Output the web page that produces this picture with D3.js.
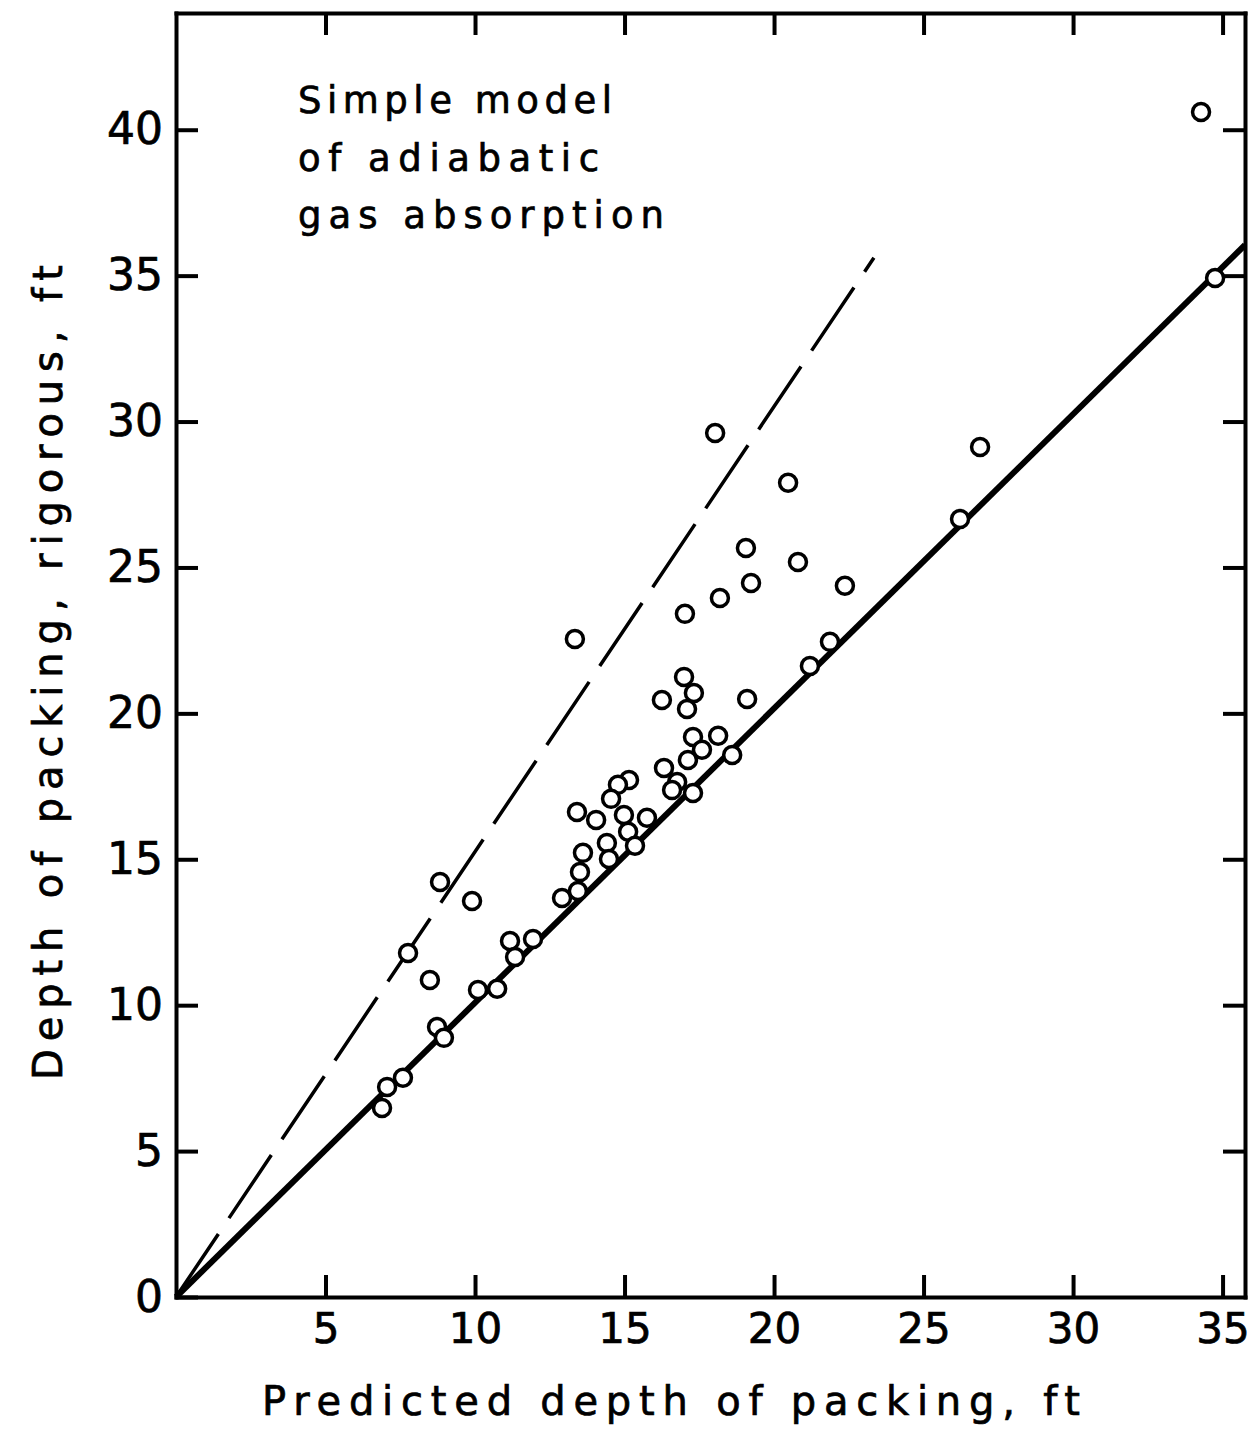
<!DOCTYPE html>
<html>
<head>
<meta charset="utf-8">
<script src="https://cdn.jsdelivr.net/npm/d3@7"></script>
<style>
  body { margin: 0; background: #fff; }
  svg { display: block; font-family: "DejaVu Sans", sans-serif; }
  svg text { stroke: #000; stroke-width: 0.7px; }
</style>
</head>
<body>
<svg width="1253" height="1430"></svg>
<script>
// predicted depth of packing (ft) vs rigorous depth (ft)
const predicted = [34.28, 34.75, 26.89, 26.22, 18.03, 20.47, 19.06, 20.80, 19.23, 18.19,
    22.37, 17.02, 13.34, 21.20, 21.87, 19.10, 16.25, 16.99, 17.32, 17.09,
    18.13, 17.29, 17.59, 18.60, 17.12, 16.32, 16.76, 16.59, 17.29, 15.15,
    14.78, 14.55, 13.41, 14.05, 15.75, 14.98, 15.12, 14.41, 15.35, 13.61,
    13.51, 14.48, 13.44, 12.91, 8.83, 9.90, 7.76, 11.17, 11.94, 11.34,
    8.49, 10.10, 10.74, 8.73, 8.96, 7.59, 7.06, 6.89];
const rigorous = [40.61, 34.92, 29.13, 26.66, 29.61, 27.90, 25.67, 25.19, 24.47, 23.95,
    24.37, 23.41, 22.55, 21.62, 22.45, 20.49, 20.46, 21.25, 20.70, 20.15,
    19.23, 19.19, 18.75, 18.57, 18.40, 18.13, 17.65, 17.37, 17.27, 17.72,
    17.55, 17.07, 16.62, 16.35, 16.42, 16.52, 15.94, 15.56, 15.46, 15.22,
    14.56, 15.01, 13.91, 13.67, 14.22, 13.57, 11.79, 12.20, 12.27, 11.65,
    10.86, 10.52, 10.56, 9.25, 8.88, 7.51, 7.20, 6.48];

// reference lines
const solidLine = [[0, 0], [35.75, 36.05]];
const dashedLine = [[0, 0], [23.34, 35.61]];

const xTicks = [5, 10, 15, 20, 25, 30, 35];
const yTicks = [0, 5, 10, 15, 20, 25, 30, 35, 40];
const noteLines = ['Simple model', 'of adiabatic', 'gas absorption'];

const svg = d3.select('svg');
const margens = { left: 176, right: 8, top: 13, bottom: 133 };
const width = 1253 - margens.left - margens.right;
const height = 1430 - margens.top - margens.bottom;

const x = d3.scaleLinear().domain([0, 35.75]).range([0, width]);
const y = d3.scaleLinear().domain([0, 44]).range([height, 0]);

const group = svg.append('g')
    .attr('transform', `translate(${margens.left}, ${margens.top})`);

// Eixos (ticks pointing inward on all four sides)
const tick = 22;
const axisB = group.append('g').attr('transform', `translate(0, ${height})`)
    .call(d3.axisBottom(x).tickValues(xTicks).tickSizeInner(-tick).tickSizeOuter(0).tickPadding(16));
const axisL = group.append('g')
    .call(d3.axisLeft(y).tickValues(yTicks).tickSizeInner(-tick).tickSizeOuter(0).tickPadding(13));
const axisT = group.append('g')
    .call(d3.axisTop(x).tickValues(xTicks).tickSizeInner(-tick).tickSizeOuter(0).tickFormat(''));
const axisR = group.append('g').attr('transform', `translate(${width}, 0)`)
    .call(d3.axisRight(y).tickValues(yTicks.slice(1)).tickSizeInner(-tick).tickSizeOuter(0).tickFormat(''));

[axisB, axisL, axisT, axisR].forEach(a => {
    a.select('.domain').attr('stroke', '#000').attr('stroke-width', 4).attr('stroke-linecap', 'square');
    a.selectAll('.tick line').attr('stroke', '#000').attr('stroke-width', 4);
    a.selectAll('.tick text').attr('fill', '#000').attr('font-family', '"DejaVu Sans", sans-serif');
});
axisB.selectAll('.tick text').attr('font-size', 42);
axisL.selectAll('.tick text').attr('font-size', 44);

const line = d3.line().x(d => x(d[0])).y(d => y(d[1]));

group.append('path')
    .datum(dashedLine)
    .attr('d', line)
    .attr('fill', 'none')
    .attr('stroke', '#000')
    .attr('stroke-width', 3.5)
    .attr('stroke-dasharray', '76 19');

group.append('path')
    .datum(solidLine)
    .attr('d', line)
    .attr('fill', 'none')
    .attr('stroke', '#000')
    .attr('stroke-width', 6);

const points = predicted.map((p, i) => ({ predicted: p, rigorous: rigorous[i] }));

group.selectAll('circle')
    .data(points)
    .enter()
    .append('circle')
    .attr('cx', d => x(d.predicted))
    .attr('cy', d => y(d.rigorous))
    .attr('r', 8.5)
    .attr('fill', '#fff')
    .attr('stroke', '#000')
    .attr('stroke-width', 3.5);

// annotation
svg.append('g').selectAll('text')
    .data(noteLines)
    .enter()
    .append('text')
    .attr('x', 298)
    .attr('y', (d, i) => 113 + i * 57.5)
    .attr('font-size', 37)
    .attr('textLength', (d, i) => [314, 301, 366][i])
    .attr('lengthAdjust', 'spacing')
    .text(d => d);

// axis titles
svg.append('text')
    .attr('x', 262)
    .attr('y', 1415)
    .attr('font-size', 40)
    .attr('textLength', 818)
    .attr('lengthAdjust', 'spacing')
    .text('Predicted depth of packing, ft');

svg.append('text')
    .attr('transform', 'translate(62, 1080) rotate(-90)')
    .attr('font-size', 40)
    .attr('textLength', 815)
    .attr('lengthAdjust', 'spacing')
    .text('Depth of packing, rigorous, ft');
</script>
</body>
</html>
